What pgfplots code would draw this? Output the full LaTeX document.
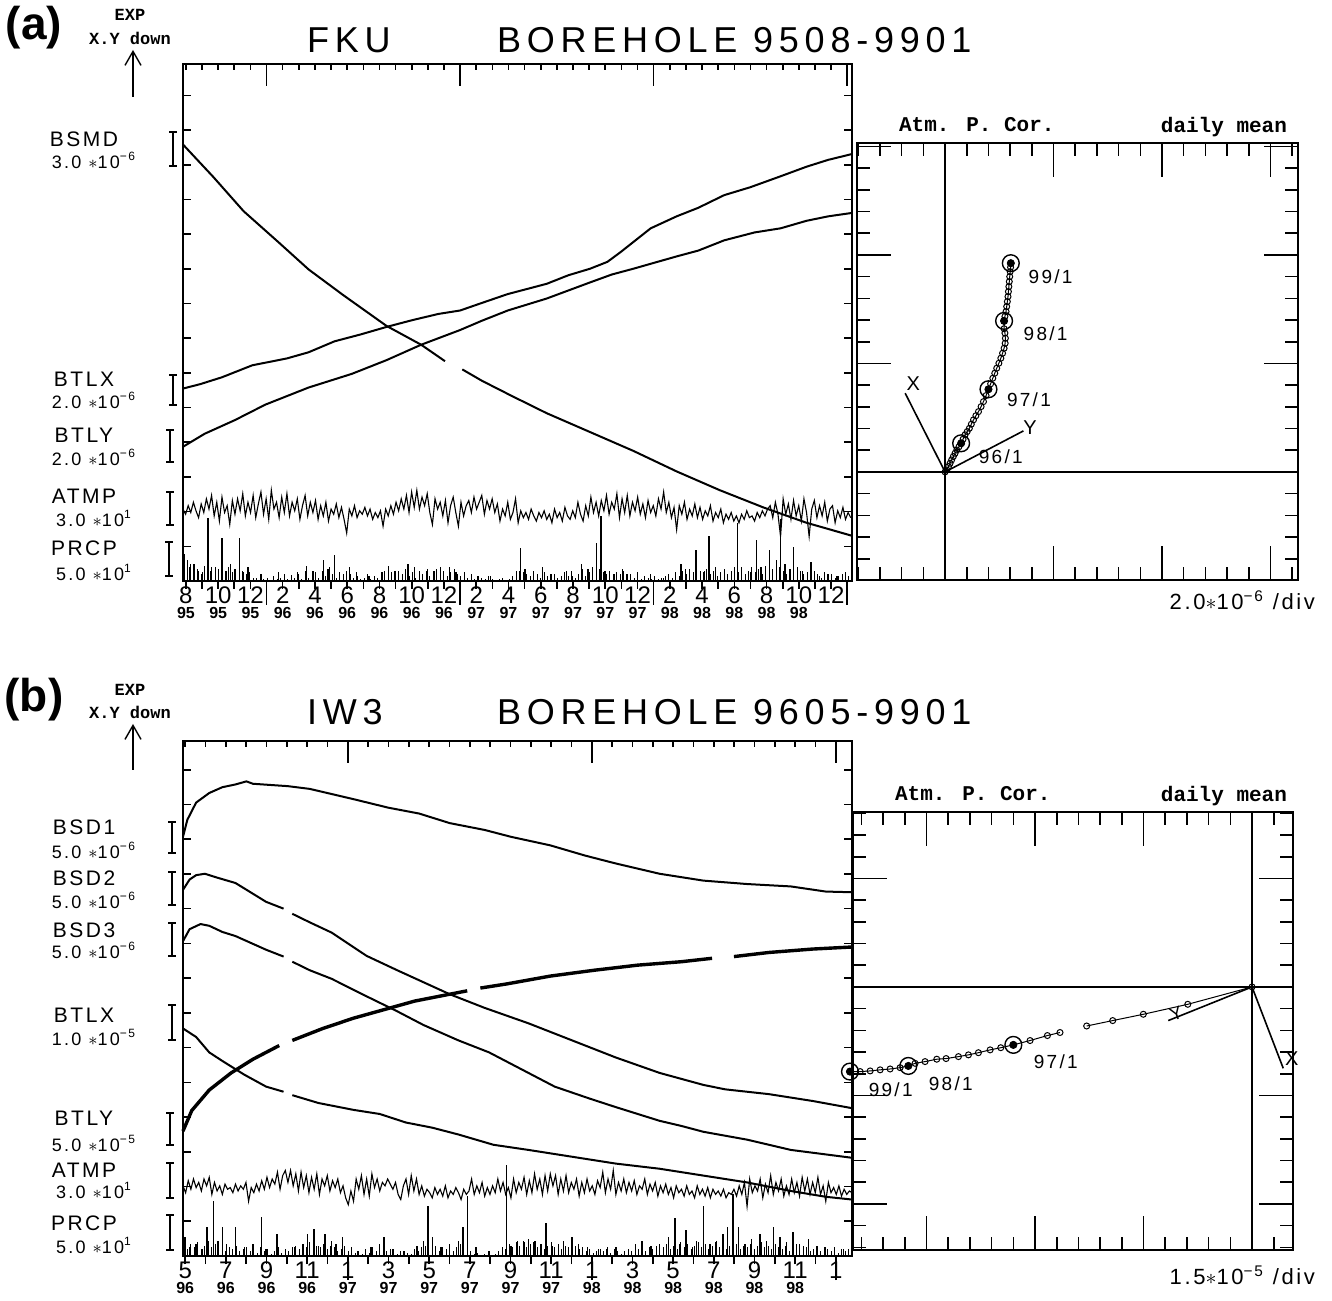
\documentclass[border=0pt]{standalone}
\usepackage{fontspec}
\setmainfont{Liberation Sans}
\newfontfamily\pf[LetterSpace=12]{Liberation Sans}
\newfontfamily\tf[LetterSpace=16]{Liberation Sans}
\newfontfamily\mf{Liberation Mono}
\usepackage{pgfplots}
\pgfplotsset{compat=1.18}
\usetikzlibrary{arrows.meta}

% month over year tick label
\newcommand\ml[2]{#1\vphantom{0}\\[-4.5pt]{\fontsize{8}{8}\selectfont\bfseries #2\vphantom{0}}}
% scale bar beside the trace names
\newcommand\sbar[3]{\draw[line width=0.8pt] (#1,#2)--(#1,#3) (#1-2pt,#2)--(#1+2pt,#2) (#1-2pt,#3)--(#1+2pt,#3);}
\newcommand\nm[3]{\node[inner sep=0pt, text height=7.6pt, text depth=0pt, font=\pf\fontsize{10.5}{10.5}\selectfont] at (#1,#2+1pt) {#3};}
\newcommand\scl[3]{\node[inner sep=0pt, text height=7pt, text depth=0pt, font=\pf\fontsize{9}{9}\selectfont] at (#1,#2-0.8pt) {#3};}

\pgfplotsset{
  ts/.style={scale only axis, clip=false, width=334.5pt,
    axis line style={line width=1pt}, tick style={black,line width=0.8pt},
    ymin=0, yticklabels={}, ytick pos=both, ytick align=inside,
    major tick length=4pt, minor tick length=4pt,
    xtick pos=bottom, xtick align=outside,
    xticklabel style={font=\fontsize{12}{12}\selectfont, align=center, inner sep=1pt, yshift=2.5pt},
    extra x tick labels={}, extra x tick style={major tick length=12pt}},
  tstop/.style={scale only axis, width=334.5pt, ymin=0, ytick=\empty,
    xticklabels={}, xtick pos=top, xtick align=inside, major tick length=2.8pt,
    tick style={black,line width=0.8pt}, axis line style={draw=none},
    extra x tick labels={}, extra x tick style={major tick length=11pt}},
  hodo/.style={scale only axis, clip=false, axis line style={line width=1pt},
    tick style={black,line width=0.8pt}, xticklabels={}, yticklabels={},
    tick align=inside, tick pos=both, major tick length=17pt, minor tick length=6.5pt},
  crv/.style={black, line width=1pt},
  noise/.style={black, line width=0.55pt},
  rain/.style={black, ycomb, line width=0.7pt},
}

\begin{document}
\begin{tikzpicture}
\useasboundingbox (0,0) rectangle (666pt,650pt);

% ================= panel (a), time series =================
\begin{axis}[ts, at={(91.5pt,359.5pt)}, anchor=south west, height=258.5pt,
  xmin=10, xmax=1555, ymax=1510, y filter/.expression={1530-y},
  ytick={0,101.3,...,1510},
  xtick={16.7,91.2,...,1507},
  xticklabels={{\ml{8}{95}},{\ml{10}{95}},{\ml{12}{95}},{\ml{2}{96}},{\ml{4}{96}},{\ml{6}{96}},{\ml{8}{96}},{\ml{10}{96}},{\ml{12}{96}},{\ml{2}{97}},{\ml{4}{97}},{\ml{6}{97}},{\ml{8}{97}},{\ml{10}{97}},{\ml{12}{97}},{\ml{2}{98}},{\ml{4}{98}},{\ml{6}{98}},{\ml{8}{98}},{\ml{10}{98}},{12\vphantom{0}}},
  minor xtick={16.7,53.95,...,1545},
  extra x ticks={203,650,1097,1544}]
% BSMD
\addplot[crv] coordinates {(10,255)(15,262)(80,350)(150,450)(230,540)(300,620)(380,695)(480,785)(560,840)(615,888)};
\addplot[crv] coordinates {(655,912)(700,945)(770,990)(850,1040)(950,1095)(1050,1150)(1150,1210)(1250,1265)(1350,1315)(1450,1360)(1555,1398)};
% BTLX
\addplot[crv] coordinates {(10,968)(50,955)(100,935)(170,900)(250,880)(300,862)(360,830)(420,810)(480,788)(540,768)(600,750)(650,740)(700,718)(760,692)(850,662)(900,637)(950,618)(990,598)(1020,570)(1060,530)(1090,500)(1150,465)(1200,440)(1260,403)(1320,380)(1390,348)(1450,320)(1500,300)(1555,283)};
% BTLY
\addplot[crv] coordinates {(10,1138)(60,1100)(130,1060)(200,1015)(300,965)(400,925)(480,885)(560,840)(650,797)(700,770)(760,740)(850,705)(950,658)(1000,635)(1050,618)(1150,582)(1200,565)(1260,535)(1330,512)(1390,500)(1450,478)(1500,465)(1555,455)};
% ATMP (samples every 6 units)
\addplot[noise] table[row sep=\\, x expr=10+6*\coordindex, y index=0] {y\\
1320\\1335\\1310\\1330\\1300\\1325\\1345\\1305\\1330\\1290\\
1320\\1280\\1340\\1300\\1355\\1285\\1330\\1310\\1365\\1295\\
1335\\1290\\1325\\1275\\1340\\1300\\1330\\1280\\1345\\1305\\
1270\\1335\\1290\\1350\\1265\\1320\\1300\\1345\\1285\\1330\\
1275\\1340\\1300\\1325\\1290\\1350\\1310\\1280\\1340\\1300\\
1330\\1295\\1350\\1310\\1340\\1300\\1355\\1320\\1335\\1305\\
1345\\1315\\1350\\1390\\1320\\1340\\1310\\1345\\1325\\1335\\
1315\\1340\\1320\\1350\\1330\\1345\\1325\\1370\\1320\\1340\\
1310\\1335\\1300\\1325\\1290\\1320\\1280\\1330\\1270\\1315\\
1265\\1320\\1285\\1310\\1275\\1330\\1365\\1290\\1320\\1300\\
1340\\1295\\1360\\1310\\1285\\1330\\1370\\1300\\1340\\1310\\
1295\\1330\\1285\\1320\\1300\\1280\\1335\\1295\\1320\\1290\\
1330\\1305\\1355\\1320\\1340\\1300\\1350\\1330\\1290\\1360\\
1325\\1345\\1330\\1350\\1320\\1340\\1355\\1330\\1345\\1325\\
1350\\1335\\1360\\1320\\1345\\1330\\1355\\1315\\1340\\1350\\
1325\\1345\\1300\\1335\\1355\\1310\\1340\\1285\\1330\\1300\\
1340\\1295\\1325\\1280\\1335\\1300\\1320\\1275\\1345\\1290\\
1330\\1280\\1340\\1300\\1325\\1285\\1335\\1305\\1345\\1295\\
1330\\1310\\1340\\1290\\1320\\1270\\1330\\1300\\1345\\1315\\
1380\\1310\\1335\\1300\\1350\\1320\\1340\\1305\\1345\\1315\\
1350\\1325\\1340\\1310\\1355\\1330\\1345\\1320\\1360\\1335\\
1350\\1330\\1355\\1340\\1360\\1335\\1350\\1325\\1345\\1340\\
1355\\1330\\1345\\1325\\1340\\1320\\1310\\1345\\1300\\1335\\
1400\\1290\\1335\\1305\\1350\\1295\\1340\\1310\\1355\\1290\\
1330\\1400\\1320\\1295\\1345\\1310\\1340\\1300\\1355\\1320\\
1310\\1360\\1325\\1345\\1315\\1350\\1330\\1345\\
};
% PRCP, small daily amounts (every 8 units)
\addplot[rain, line width=0.5pt] table[row sep=\\, x expr=12+8*\coordindex, y index=0] {y\\
1490\\1505\\1480\\1500\\1495\\1510\\1485\\1500\\1490\\1505\\
1495\\1510\\1500\\1490\\1505\\1495\\1515\\1500\\1510\\1505\\
1520\\1525\\1515\\1525\\1520\\1528\\1515\\1525\\1520\\1510\\
1525\\1515\\1520\\1510\\1525\\1500\\1520\\1515\\1505\\1520\\
1500\\1515\\1490\\1510\\1520\\1505\\1515\\1500\\1510\\1520\\
1515\\1525\\1520\\1510\\1525\\1515\\1520\\1510\\1500\\1515\\
1505\\1515\\1500\\1510\\1495\\1515\\1505\\1520\\1500\\1510\\
1500\\1515\\1505\\1495\\1510\\1500\\1515\\1505\\1495\\1510\\
1515\\1505\\1520\\1510\\1525\\1515\\1520\\1525\\1515\\1525\\
1528\\1525\\1520\\1528\\1525\\1515\\1510\\1500\\1505\\1510\\
1515\\1500\\1510\\1520\\1505\\1515\\1525\\1510\\1520\\1515\\
1505\\1515\\1500\\1520\\1510\\1495\\1515\\1505\\1490\\1500\\
1495\\1505\\1510\\1500\\1515\\1505\\1510\\1500\\1515\\1510\\
1520\\1510\\1525\\1515\\1520\\1525\\1515\\1525\\1520\\1515\\
1510\\1520\\1505\\1515\\1500\\1510\\1495\\1505\\1510\\1500\\
1505\\1495\\1510\\1500\\1515\\1505\\1495\\1510\\1500\\1490\\
1505\\1495\\1510\\1500\\1490\\1505\\1495\\1510\\1485\\1500\\
1495\\1505\\1490\\1500\\1510\\1495\\1505\\1490\\1500\\1510\\
1505\\1515\\1500\\1510\\1520\\1505\\1515\\1510\\1520\\1515\\
1510\\1520\\1515\\
};
% PRCP, larger events
\addplot[rain] coordinates {(14,1450)(20,1470)(25,1490)(35,1480)(45,1500)(55,1505)(68,1345)(75,1500)(85,1490)(100,1405)(110,1500)(120,1480)(130,1495)(140,1405)(150,1505)(160,1490)(180,1520)(190,1510)(230,1505)(260,1512)(275,1505)(295,1485)(310,1500)(335,1470)(345,1495)(360,1455)(380,1510)(395,1490)(410,1505)(440,1515)(470,1505)(485,1485)(500,1500)(530,1480)(545,1490)(575,1495)(590,1500)(605,1490)(625,1490)(640,1505)(660,1510)(690,1515)(720,1515)(780,1500)(790,1435)(800,1495)(840,1490)(860,1510)(895,1500)(910,1515)(930,1480)(945,1495)(965,1420)(975,1340)(985,1500)(1005,1510)(1025,1495)(1035,1510)(1060,1505)(1090,1510)(1120,1520)(1160,1480)(1170,1495)(1195,1440)(1215,1500)(1225,1400)(1240,1490)(1260,1515)(1290,1360)(1300,1490)(1320,1505)(1335,1410)(1345,1490)(1365,1440)(1380,1470)(1390,1350)(1400,1480)(1410,1495)(1420,1430)(1440,1500)(1460,1475)(1480,1515)(1500,1510)(1520,1515)(1540,1505)};
\end{axis}
\begin{axis}[tstop, at={(91.5pt,359.5pt)}, anchor=south west, height=258.5pt,
  xmin=10, xmax=1555, ymax=1510, xtick={16.7,53.95,...,1545},
  extra x ticks={203,650,1097,1544}]
\end{axis}

% ================= panel (a), hodograph =================
\begin{axis}[hodo, at={(428.5pt,360pt)}, anchor=south west, width=220.5pt, height=218.5pt,
  xmin=-4.06, xmax=16.27, ymin=-4.98, ymax=15.16,
  xtick={0,5,10,15}, minor xtick={-4,...,16}, ytick={0,5,10,15}, minor ytick={-4,...,15}]
\addplot[black, line width=0.6pt] coordinates {(-4.06,0)(16.27,0)};
\addplot[black, line width=0.6pt] coordinates {(0,-4.98)(0,15.16)};
\addplot[black, line width=0.8pt] coordinates {(-1.84,3.63)(0,0)(3.61,1.89)};
\addplot[black, line width=0.5pt, mark=o, mark size=1.5pt] coordinates {(0,0)(0.08,0.09)(0.16,0.25)(0.23,0.40)(0.30,0.55)(0.38,0.71)(0.46,0.86)(0.54,1.01)(0.64,1.16)(0.74,1.32)(0.83,1.51)(0.92,1.71)(1.02,1.86)(1.12,2.01)(1.21,2.20)(1.31,2.40)(1.42,2.59)(1.54,2.78)(1.66,3.01)(1.77,3.24)(1.89,3.52)(2.0,3.81)(2.10,4.06)(2.20,4.32)(2.29,4.55)(2.38,4.78)(2.48,5.01)(2.57,5.24)(2.65,5.47)(2.72,5.70)(2.77,5.93)(2.78,6.16)(2.76,6.40)(2.72,6.60)(2.72,6.96)(2.76,7.17)(2.81,7.39)(2.84,7.62)(2.87,7.85)(2.90,8.08)(2.92,8.31)(2.94,8.54)(2.96,8.77)(2.98,9.00)(3.0,9.23)(3.02,9.43)(3.03,9.62)};
\addplot[only marks, mark=o, mark size=4.2pt, line width=0.7pt] coordinates {(0.74,1.32)(2.0,3.81)(2.72,6.96)(3.03,9.62)};
\addplot[only marks, mark=*, mark size=1.8pt] coordinates {(0.74,1.32)(2.0,3.81)(2.72,6.96)(3.03,9.62)};
\node[anchor=west, font=\pf\fontsize{9.5}{9.5}\selectfont] at (axis cs:3.53,9.0) {99/1};
\node[anchor=west, font=\pf\fontsize{9.5}{9.5}\selectfont] at (axis cs:3.3,6.39) {98/1};
\node[anchor=west, font=\pf\fontsize{9.5}{9.5}\selectfont] at (axis cs:2.53,3.32) {97/1};
\node[anchor=west, font=\pf\fontsize{9.5}{9.5}\selectfont] at (axis cs:1.23,0.71) {96/1};
\node[font=\pf\fontsize{10}{10}\selectfont] at (axis cs:-1.46,4.05) {X};
\node[font=\pf\fontsize{10}{10}\selectfont] at (axis cs:3.92,2.05) {Y};
\end{axis}

% ================= panel (b), time series =================
\begin{axis}[ts, at={(91.5pt,22pt)}, anchor=south west, height=257.5pt,
  xmin=10, xmax=1540, ymax=1505, y filter/.expression={1525-y},
  ytick={0,101.5,...,1505},
  xtick={15,108,...,1504},
  xticklabels={{\ml{5}{96}},{\ml{7}{96}},{\ml{9}{96}},{\ml{11}{96}},{\ml{1}{97}},{\ml{3}{97}},{\ml{5}{97}},{\ml{7}{97}},{\ml{9}{97}},{\ml{11}{97}},{\ml{1}{98}},{\ml{3}{98}},{\ml{5}{98}},{\ml{7}{98}},{\ml{9}{98}},{\ml{11}{98}},{1\vphantom{0}}},
  minor xtick={15,61.5,...,1506},
  extra x ticks={387,945,1503}]
% BSD1
\addplot[crv] coordinates {(10,300)(20,250)(40,200)(70,172)(100,155)(130,147)(155,138)(170,145)(250,152)(300,160)(350,175)(400,190)(480,215)(550,232)(620,260)(700,280)(760,300)(850,325)(930,355)(1000,378)(1100,408)(1200,428)(1300,438)(1400,445)(1480,460)(1540,462)};
% BSD2
\addplot[crv] coordinates {(10,455)(25,425)(40,412)(60,408)(90,420)(130,435)(200,490)(240,510)};
\addplot[crv] coordinates {(260,525)(300,550)(350,580)(430,648)(500,690)(560,725)(620,760)(700,800)(800,845)(900,895)(1000,945)(1100,990)(1200,1025)(1250,1038)(1350,1052)(1450,1072)(1540,1093)};
% BSD3
\addplot[crv] coordinates {(10,605)(25,570)(50,555)(70,560)(100,578)(130,590)(200,630)(240,650)};
\addplot[crv] coordinates {(260,665)(300,690)(350,715)(420,760)(500,810)(560,850)(640,895)(710,930)(800,990)(860,1030)(940,1065)(1000,1090)(1100,1130)(1150,1145)(1200,1162)(1300,1185)(1400,1215)(1540,1238)};
% BTLX
\addplot[crv] coordinates {(10,860)(40,885)(70,930)(100,955)(150,995)(200,1030)(240,1045)};
\addplot[crv] coordinates {(260,1055)(320,1078)(400,1098)(460,1110)(520,1135)(580,1150)(640,1170)(720,1200)(800,1215)(900,1235)(1000,1255)(1100,1270)(1200,1290)(1300,1310)(1400,1335)(1480,1352)(1540,1360)};
% BTLY
\addplot[crv, line width=1.7pt] coordinates {(10,1160)(30,1100)(70,1040)(120,990)(170,950)(230,910)};
\addplot[crv, line width=1.7pt] coordinates {(260,895)(330,860)(400,830)(470,805)(540,780)(600,765)(660,750)};
\addplot[crv, line width=1.7pt] coordinates {(690,742)(750,730)(850,707)(950,690)(1050,675)(1150,665)(1220,655)};
\addplot[crv, line width=1.7pt] coordinates {(1270,650)(1350,638)(1450,628)(1540,622)};
% ATMP (samples every 6 units)
\addplot[noise] table[row sep=\\, x expr=10+6*\coordindex, y index=0] {y\\
1320\\1340\\1305\\1330\\1300\\1325\\1310\\1335\\1300\\1320\\
1295\\1345\\1310\\1335\\1320\\1345\\1315\\1330\\1325\\1340\\
1315\\1335\\1320\\1330\\1310\\1365\\1325\\1340\\1315\\1335\\
1305\\1330\\1295\\1325\\1300\\1315\\1280\\1330\\1290\\1275\\
1310\\1275\\1320\\1285\\1335\\1280\\1325\\1290\\1340\\1295\\
1330\\1285\\1345\\1300\\1320\\1290\\1335\\1305\\1325\\1300\\
1340\\1320\\1355\\1375\\1335\\1365\\1300\\1330\\1290\\1345\\
1300\\1350\\1285\\1325\\1300\\1335\\1310\\1320\\1300\\1315\\
1330\\1310\\1345\\1360\\1320\\1300\\1345\\1290\\1335\\1300\\
1345\\1320\\1350\\1330\\1340\\1355\\1325\\1345\\1330\\1350\\
1320\\1355\\1335\\1345\\1325\\1340\\1360\\1330\\1345\\1335\\
1300\\1345\\1320\\1340\\1310\\1350\\1325\\1345\\1320\\1340\\
1300\\1335\\1310\\1345\\1325\\1355\\1300\\1340\\1310\\1330\\
1295\\1345\\1305\\1340\\1285\\1330\\1300\\1345\\1290\\1335\\
1285\\1320\\1290\\1345\\1300\\1335\\1290\\1340\\1310\\1330\\
1300\\1350\\1310\\1340\\1300\\1335\\1320\\1345\\1305\\1325\\
1280\\1340\\1300\\1330\\1275\\1345\\1310\\1335\\1300\\1340\\
1310\\1335\\1305\\1345\\1320\\1330\\1300\\1345\\1315\\1335\\
1310\\1350\\1320\\1340\\1315\\1345\\1325\\1355\\1320\\1340\\
1330\\1350\\1320\\1345\\1335\\1355\\1320\\1345\\1330\\1350\\
1325\\1355\\1330\\1345\\1335\\1350\\1330\\1355\\1340\\1345\\
1330\\1350\\1320\\1345\\1310\\1380\\1300\\1340\\1320\\1335\\
1300\\1355\\1315\\1340\\1290\\1345\\1310\\1335\\1300\\1350\\
1320\\1345\\1300\\1340\\1310\\1350\\1295\\1335\\1300\\1345\\
1310\\1340\\1295\\1345\\1320\\1365\\1310\\1340\\1325\\1345\\
1320\\1350\\1330\\1345\\1335\\1340\\
};
% PRCP, small daily amounts (every 8 units)
\addplot[rain, line width=0.5pt] table[row sep=\\, x expr=12+8*\coordindex, y index=0] {y\\
1495\\1505\\1490\\1500\\1485\\1505\\1495\\1480\\1500\\1490\\
1505\\1495\\1510\\1500\\1505\\1495\\1510\\1505\\1500\\1510\\
1505\\1515\\1500\\1510\\1505\\1520\\1510\\1500\\1515\\1505\\
1510\\1500\\1495\\1505\\1490\\1500\\1485\\1505\\1495\\1500\\
1490\\1505\\1495\\1500\\1510\\1505\\1495\\1510\\1500\\1515\\
1510\\1520\\1505\\1515\\1500\\1510\\1505\\1495\\1510\\1505\\
1515\\1520\\1510\\1525\\1515\\1520\\1505\\1510\\1500\\1495\\
1490\\1505\\1495\\1510\\1500\\1505\\1495\\1510\\1500\\1490\\
1505\\1495\\1510\\1520\\1515\\1525\\1520\\1515\\1525\\1520\\
1510\\1515\\1505\\1490\\1500\\1485\\1495\\1480\\1500\\1490\\
1485\\1500\\1490\\1505\\1495\\1485\\1500\\1490\\1505\\1495\\
1500\\1510\\1495\\1505\\1500\\1510\\1505\\1515\\1510\\1505\\
1510\\1500\\1515\\1505\\1510\\1520\\1515\\1505\\1510\\1500\\
1505\\1495\\1510\\1500\\1505\\1495\\1510\\1500\\1490\\1505\\
1495\\1505\\1485\\1500\\1490\\1505\\1495\\1485\\1500\\1490\\
1505\\1495\\1485\\1500\\1490\\1505\\1495\\1500\\1490\\1505\\
1495\\1500\\1490\\1505\\1495\\1485\\1500\\1495\\1505\\1490\\
1500\\1505\\1495\\1510\\1500\\1490\\1505\\1495\\1500\\1510\\
1505\\1495\\1510\\1500\\1505\\1510\\1500\\1515\\1505\\1510\\
1505\\
};
% PRCP, larger events
\addplot[rain] coordinates {(15,1470)(25,1500)(40,1490)(55,1505)(65,1440)(80,1365)(90,1480)(100,1440)(110,1490)(130,1440)(150,1500)(170,1490)(190,1410)(200,1505)(225,1460)(245,1505)(265,1500)(285,1490)(295,1460)(310,1445)(320,1495)(335,1460)(350,1480)(360,1490)(375,1470)(395,1500)(410,1510)(440,1500)(460,1490)(470,1470)(490,1505)(515,1510)(545,1495)(560,1480)(570,1380)(580,1470)(600,1500)(620,1490)(640,1480)(650,1440)(660,1350)(680,1500)(710,1510)(740,1500)(750,1260)(760,1495)(775,1480)(790,1485)(800,1475)(815,1480)(830,1490)(840,1430)(855,1495)(880,1480)(900,1470)(915,1490)(935,1500)(960,1505)(980,1505)(1000,1500)(1020,1510)(1045,1490)(1060,1480)(1080,1495)(1100,1490)(1120,1470)(1135,1415)(1145,1490)(1160,1450)(1175,1500)(1185,1480)(1200,1380)(1215,1490)(1230,1480)(1245,1460)(1255,1440)(1268,1345)(1280,1440)(1295,1490)(1310,1475)(1330,1460)(1345,1480)(1360,1440)(1375,1470)(1390,1485)(1405,1455)(1420,1490)(1440,1475)(1460,1495)(1480,1500)(1500,1510)(1520,1505)};
\end{axis}
\begin{axis}[tstop, at={(91.5pt,22pt)}, anchor=south west, height=257.5pt,
  xmin=10, xmax=1540, ymax=1505, xtick={15,61.5,...,1506},
  extra x ticks={387,945,1503}]
\end{axis}

% ================= panel (b), hodograph =================
\begin{axis}[hodo, at={(426.5pt,25pt)}, anchor=south west, width=220pt, height=219pt,
  xmin=-18.39, xmax=1.89, ymin=-12.12, ymax=8.06,
  xtick={-15,-10,-5,0}, minor xtick={-18,...,1}, ytick={-10,-5,0,5}, minor ytick={-12,...,8}]
\addplot[black, line width=0.6pt] coordinates {(-18.39,0)(1.89,0)};
\addplot[black, line width=0.6pt] coordinates {(0,-12.12)(0,8.06)};
\addplot[black, line width=0.8pt] coordinates {(-3.86,-1.55)(0,0)(1.44,-3.75)};
\addplot[black, line width=0.5pt, mark=o, mark size=1.5pt] coordinates {(0,0)(-2.96,-0.80)(-5.01,-1.26)(-6.42,-1.55)(-7.62,-1.80)};
\addplot[black, line width=0.5pt, mark=o, mark size=1.5pt] coordinates {(-8.85,-2.10)(-9.43,-2.24)(-10.23,-2.47)(-11.0,-2.67)(-11.58,-2.80)(-12.07,-2.90)(-12.61,-3.03)(-13.07,-3.13)(-13.53,-3.21)(-14.10,-3.30)(-14.53,-3.33)(-15.07,-3.44)(-15.53,-3.52)(-15.84,-3.64)(-16.22,-3.72)(-16.68,-3.78)(-17.14,-3.82)(-17.6,-3.87)(-18.06,-3.90)(-18.53,-3.90)};
\addplot[only marks, mark=o, mark size=4.2pt, line width=0.7pt] coordinates {(-11.0,-2.67)(-15.84,-3.64)(-18.53,-3.90)};
\addplot[only marks, mark=*, mark size=1.8pt] coordinates {(-11.0,-2.67)(-15.84,-3.64)(-18.53,-3.90)};
\node[anchor=west, font=\pf\fontsize{9.5}{9.5}\selectfont] at (axis cs:-10.38,-3.44) {97/1};
\node[anchor=west, font=\pf\fontsize{9.5}{9.5}\selectfont] at (axis cs:-15.22,-4.44) {98/1};
\node[anchor=west, font=\pf\fontsize{9.5}{9.5}\selectfont] at (axis cs:-17.99,-4.72) {99/1};
\node[font=\pf\fontsize{10}{10}\selectfont] at (axis cs:1.83,-3.29) {X};
\node[font=\pf\fontsize{9}{9}\selectfont, rotate=20] at (axis cs:-3.5,-1.25) {Y};
\end{axis}

% ================= annotations =================
% panel (a)
\node[font=\fontsize{23}{23}\selectfont\bfseries] at (17pt,636pt) {(a)};
\node[font=\mf\fontsize{8.5}{8.5}\selectfont\bfseries] at (65pt,642.5pt) {EXP};
\node[font=\mf\fontsize{8.5}{8.5}\selectfont\bfseries] at (65pt,631pt) {X.Y down};
\draw[line width=0.7pt, -{Straight Barb[length=7pt,width=8pt]}] (66.5pt,601.5pt) -- (66.5pt,625pt);
\node[anchor=west, font=\tf\fontsize{18}{18}\selectfont] at (150pt,630pt) {FKU};
\node[anchor=west, font=\tf\fontsize{18}{18}\selectfont] at (245pt,630pt) {BOREHOLE 9508-9901};
\nm{42pt}{579.5pt}{BSMD}  \scl{47pt}{570pt}{3.0 $\ast$10\textsuperscript{−6}} \sbar{86.5pt}{584pt}{567pt}
\nm{42pt}{459.5pt}{BTLX}  \scl{47pt}{450pt}{2.0 $\ast$10\textsuperscript{−6}} \sbar{86.5pt}{462.5pt}{447.5pt}
\nm{42pt}{431.5pt}{BTLY}  \scl{47pt}{421.5pt}{2.0 $\ast$10\textsuperscript{−6}} \sbar{85pt}{435pt}{419pt}
\nm{42pt}{401pt}{ATMP}    \scl{47pt}{391pt}{3.0 $\ast$10\textsuperscript{1}} \sbar{85pt}{404pt}{387.5pt}
\nm{42pt}{375pt}{PRCP}    \scl{47pt}{364pt}{5.0 $\ast$10\textsuperscript{1}} \sbar{84.5pt}{379pt}{362pt}
\node[anchor=west, font=\mf\fontsize{10.5}{10.5}\selectfont\bfseries] at (446pt,587.5pt) {Atm. P. Cor.};
\node[anchor=east, font=\mf\fontsize{10.5}{10.5}\selectfont\bfseries] at (647pt,586.5pt) {daily mean};
\node[anchor=east, font=\pf\fontsize{11}{11}\selectfont] at (661pt,350pt) {2.0$\ast$10\textsuperscript{−6} /div};
% panel (b)
\node[font=\fontsize{23}{23}\selectfont\bfseries] at (17pt,300pt) {(b)};
\node[font=\mf\fontsize{8.5}{8.5}\selectfont\bfseries] at (65pt,305pt) {EXP};
\node[font=\mf\fontsize{8.5}{8.5}\selectfont\bfseries] at (65pt,294pt) {X.Y down};
\draw[line width=0.7pt, -{Straight Barb[length=7pt,width=8pt]}] (66.5pt,265pt) -- (66.5pt,288pt);
\node[anchor=west, font=\tf\fontsize{18}{18}\selectfont] at (150pt,294pt) {IW3};
\node[anchor=west, font=\tf\fontsize{18}{18}\selectfont] at (245pt,294pt) {BOREHOLE 9605-9901};
\nm{42pt}{235.5pt}{BSD1} \scl{47pt}{225pt}{5.0 $\ast$10\textsuperscript{−6}} \sbar{86pt}{239pt}{223.5pt}
\nm{42pt}{210pt}{BSD2}   \scl{47pt}{200pt}{5.0 $\ast$10\textsuperscript{−6}} \sbar{86pt}{214pt}{197.5pt}
\nm{42pt}{184pt}{BSD3}   \scl{47pt}{175pt}{5.0 $\ast$10\textsuperscript{−6}} \sbar{86pt}{188.5pt}{172pt}
\nm{42pt}{141.5pt}{BTLX} \scl{47pt}{131.5pt}{1.0 $\ast$10\textsuperscript{−5}} \sbar{86pt}{147.5pt}{130pt}
\nm{42pt}{90pt}{BTLY}    \scl{47pt}{78.5pt}{5.0 $\ast$10\textsuperscript{−5}} \sbar{85pt}{93.5pt}{77.5pt}
\nm{42pt}{64pt}{ATMP}    \scl{47pt}{55pt}{3.0 $\ast$10\textsuperscript{1}} \sbar{85pt}{68.5pt}{51pt}
\nm{42pt}{37.5pt}{PRCP}  \scl{47pt}{27.5pt}{5.0 $\ast$10\textsuperscript{1}} \sbar{85pt}{42.5pt}{25pt}
\node[anchor=west, font=\mf\fontsize{10.5}{10.5}\selectfont\bfseries] at (444pt,253pt) {Atm. P. Cor.};
\node[anchor=east, font=\mf\fontsize{10.5}{10.5}\selectfont\bfseries] at (647pt,252pt) {daily mean};
\node[anchor=east, font=\pf\fontsize{11}{11}\selectfont] at (661pt,12.5pt) {1.5$\ast$10\textsuperscript{−5} /div};
\end{tikzpicture}
\end{document}
